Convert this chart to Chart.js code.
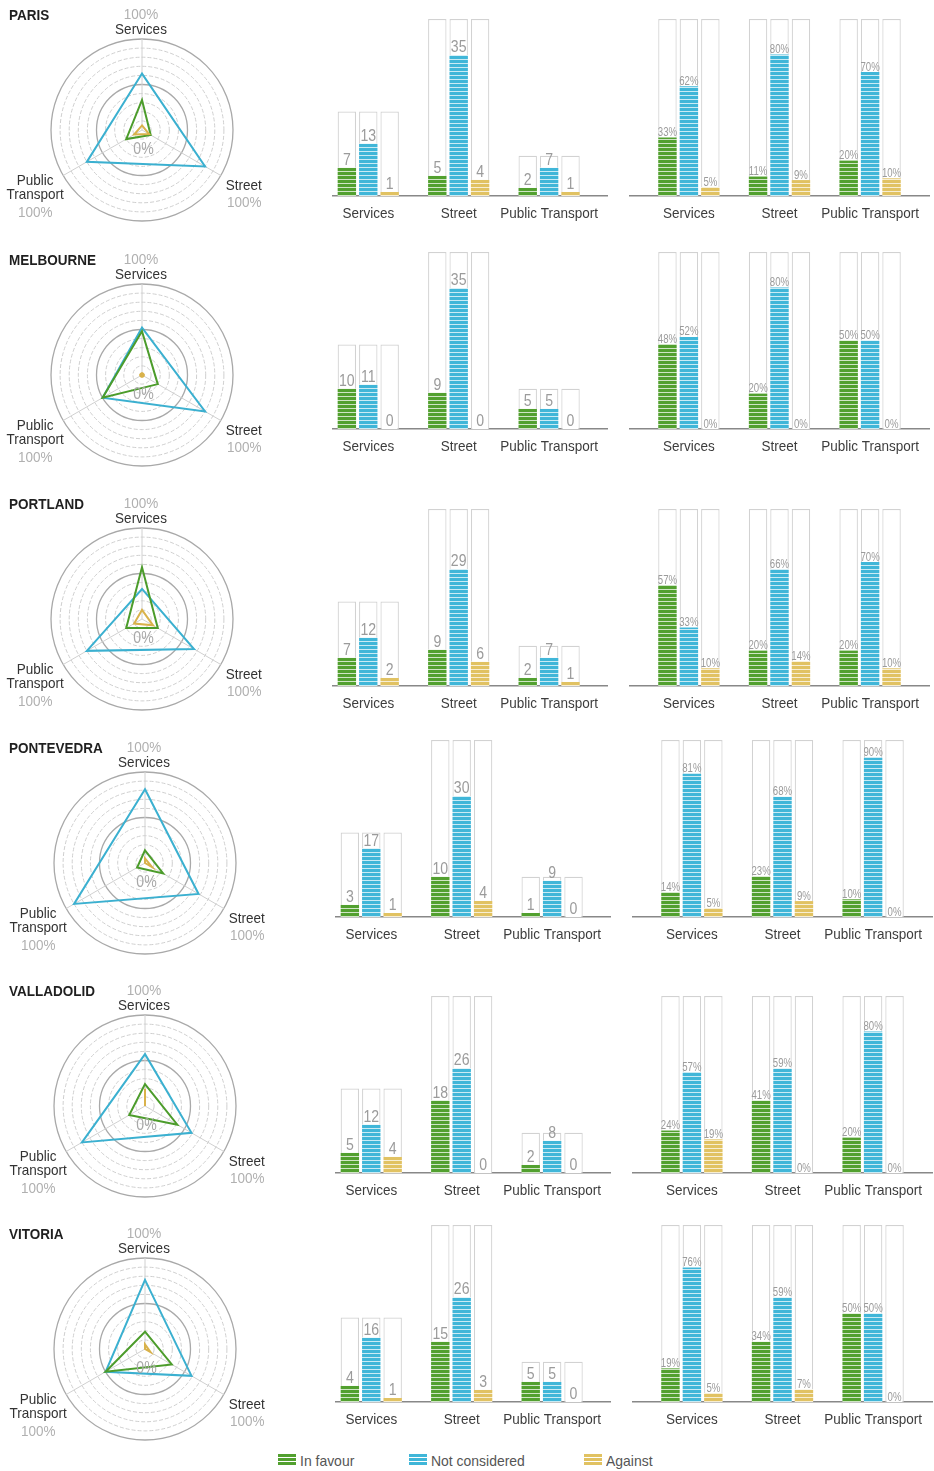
<!DOCTYPE html>
<html>
<head>
<meta charset="utf-8">
<title>Street, services and public transport – survey by city</title>
<script src="https://cdn.jsdelivr.net/npm/chart.js@4.4.1/dist/chart.umd.min.js"></script>
<style>
  html, body { margin: 0; padding: 0; background: #fff; }
  body { width: 934px; height: 1471px; position: relative; overflow: hidden;
         font-family: "Liberation Sans", Arial, sans-serif; }
  canvas { position: absolute; }
  .legend { position: absolute; left: 0; top: 1451px; width: 934px; height: 18px; font-size: 15px; color: #555; }
  .legend .item { position: absolute; top: 0; display: flex; align-items: center; height: 18px; }
  .legend .sw { display: inline-block; width: 18px; height: 12px; margin-right: 4px; }
  .legend .txt { display: inline-block; transform: scaleX(0.93); transform-origin: left center; white-space: nowrap; }
</style>
</head>
<body>
<div class="legend">
  <span class="item" style="left:278px"><i class="sw" id="sw0"></i><span class="txt" id="lg0"></span></span>
  <span class="item" style="left:409px"><i class="sw" id="sw1"></i><span class="txt" id="lg1"></span></span>
  <span class="item" style="left:584px"><i class="sw" id="sw2"></i><span class="txt" id="lg2"></span></span>
</div>
<script>
// ---- data -------------------------------------------------------------
const cities = ['PARIS', 'MELBOURNE', 'PORTLAND', 'PONTEVEDRA', 'VALLADOLID', 'VITORIA'];
const categories = ['Services', 'Street', 'Public Transport'];
const radarAxisNames = [['Services'], ['Street'], ['Public', 'Transport']];
const seriesNames = ['In favour', 'Not considered', 'Against'];

// number of answers per city, [Services, Street, Public Transport]
const favourCount        = [[7, 5, 2], [10, 9, 5], [7, 9, 2], [3, 10, 1], [5, 18, 2], [4, 15, 5]];
const notConsideredCount = [[13, 35, 7], [11, 35, 5], [12, 29, 7], [17, 30, 9], [12, 26, 8], [16, 26, 5]];
const againstCount       = [[1, 4, 1], [0, 0, 0], [2, 6, 1], [1, 4, 0], [4, 0, 0], [1, 3, 0]];

// share of answers per city (%), [Services, Street, Public Transport]
const favourPct        = [[33, 11, 20], [48, 20, 50], [57, 20, 20], [14, 23, 10], [24, 41, 20], [19, 34, 50]];
const notConsideredPct = [[62, 80, 70], [52, 80, 50], [33, 66, 70], [81, 68, 90], [57, 59, 80], [76, 59, 50]];
const againstPct       = [[5, 9, 10], [0, 0, 0], [10, 14, 10], [5, 9, 0], [19, 0, 0], [5, 7, 0]];

// ---- page layout ------------------------------------------------------
const rowTop   = [0, 245, 489, 733, 976, 1219];
const barBase  = [196, 429, 686, 917, 1173, 1402];
const rowShift = [0, 0, 0, 3, 3, 3];

const FONT = '"Liberation Sans", Arial, sans-serif';
const FILL = ['#52a02f', '#40b6d8', '#e1c262'];
const LINE = ['#4c9c2b', '#3bb0d0', '#d9b24b'];
const BOX_LINE = '#d2d2d2';

Chart.defaults.font.family = FONT;

// condensed lettering: Liberation Sans squeezed horizontally
function narrowText(ctx, txt, x, y, font, color, align, sx) {
  ctx.save();
  ctx.font = font;
  ctx.fillStyle = color;
  ctx.textAlign = align;
  ctx.textBaseline = 'alphabetic';
  ctx.translate(x, y);
  ctx.scale(sx, 1);
  ctx.fillText(txt, 0, 0);
  ctx.restore();
}

function stripes(color) {
  const c = document.createElement('canvas');
  c.width = 4; c.height = 4;
  const g = c.getContext('2d');
  g.fillStyle = color; g.fillRect(0, 0, 4, 4);
  g.fillStyle = 'rgba(255,255,255,0.72)'; g.fillRect(0, 3, 4, 1);
  return g.createPattern(c, 'repeat');
}
const PATTERN = FILL.map(stripes);

// legend
FILL.forEach((col, i) => {
  document.getElementById('sw' + i).style.background =
    'repeating-linear-gradient(to bottom, ' + col + ' 0px, ' + col + ' 3px, rgba(255,255,255,0.75) 3px, rgba(255,255,255,0.75) 4px)';
  document.getElementById('lg' + i).textContent = seriesNames[i];
});

function addCanvas(left, top, w, h) {
  const c = document.createElement('canvas');
  c.width = w; c.height = h;
  c.style.left = left + 'px'; c.style.top = top + 'px';
  c.style.width = w + 'px'; c.style.height = h + 'px';
  document.body.appendChild(c);
  return c;
}

// ---- radar: city name, axis names, 0% / 100% marks ---------------------
const radarText = {
  id: 'radarText',
  afterDraw(chart, args, opts) {
    const ctx = chart.ctx;
    const s = chart.scales.r;
    const nameFont = '15px ' + FONT, pctFont = '15px ' + FONT;
    const nameCol = '#333', pctCol = '#b0b0b0';

    narrowText(ctx, opts.title, 9, 20, 'bold 15px ' + FONT, '#1f1f1f', 'left', 0.9);

    // Services (top)
    const p0 = s.getPointPositionForValue(0, 100);
    narrowText(ctx, '100%', p0.x - 1, p0.y - 20, pctFont, pctCol, 'center', 0.9);
    narrowText(ctx, radarAxisNames[0][0], p0.x - 1, p0.y - 5, nameFont, nameCol, 'center', 0.9);

    // Street (lower right)
    const p1 = s.getPointPositionForValue(1, 100);
    narrowText(ctx, radarAxisNames[1][0], p1.x + 23, p1.y + 14, nameFont, nameCol, 'center', 0.9);
    narrowText(ctx, '100%', p1.x + 23.5, p1.y + 31, pctFont, pctCol, 'center', 0.9);

    // Public Transport (lower left)
    const p2 = s.getPointPositionForValue(2, 100);
    narrowText(ctx, radarAxisNames[2][0], p2.x - 28, p2.y + 9.5, nameFont, nameCol, 'center', 0.9);
    narrowText(ctx, radarAxisNames[2][1], p2.x - 28, p2.y + 23.5, nameFont, nameCol, 'center', 0.9);
    narrowText(ctx, '100%', p2.x - 28, p2.y + 41, pctFont, pctCol, 'center', 0.9);

    // centre
    narrowText(ctx, '0%', s.xCenter + 1.5, s.yCenter + 24, '16px ' + FONT, '#a8a8a8', 'center', 0.88);
  }
};

function radarChart(r) {
  const sh = rowShift[r];
  const cv = addCanvas(0, rowTop[r], 300, 240);
  // a series that is zero on every axis collapses to a dot at the centre
  const dot = c => c.dataset.data.every(v => v === 0) ? 2.5 : 0;
  return new Chart(cv, {
    type: 'radar',
    data: {
      labels: categories,
      datasets: [
        { label: seriesNames[2], data: againstPct[r], borderColor: LINE[2], backgroundColor: LINE[2], fill: false },
        { label: seriesNames[0], data: favourPct[r], borderColor: LINE[0], backgroundColor: LINE[0], fill: false },
        { label: seriesNames[1], data: notConsideredPct[r], borderColor: LINE[1], backgroundColor: LINE[1], fill: false }
      ]
    },
    options: {
      responsive: false, animation: false, devicePixelRatio: 1, events: [],
      layout: { padding: { left: 51 + sh, right: 67 - sh, top: 39, bottom: 19 } },
      elements: {
        line: { borderWidth: 2, tension: 0, borderCapStyle: 'round', borderJoinStyle: 'miter' },
        point: { radius: dot, borderWidth: 0, hoverRadius: 0 }
      },
      plugins: { legend: { display: false }, tooltip: { enabled: false }, radarText: { title: cities[r] } },
      scales: {
        r: {
          min: 0, max: 100,
          ticks: { display: false, stepSize: 10 },
          pointLabels: { display: false },
          angleLines: { color: '#d0d0d0', lineWidth: 1 },
          grid: {
            circular: true,
            color: c => (c.tick && c.tick.value % 50 === 0) ? '#a9a9a9' : '#cfcfcf',
            lineWidth: c => (c.tick && c.tick.value % 50 === 0) ? 1.3 : 1
          },
          border: { dash: c => (c.tick && c.tick.value % 50 === 0) ? [] : [4, 2] }
        }
      }
    },
    plugins: [radarText]
  });
}

// ---- bars: values above each coloured bar, group names under the axis ---
const barText = {
  id: 'barText',
  afterDatasetsDraw(chart, args, opts) {
    const ctx = chart.ctx;
    chart.data.datasets.forEach((ds, di) => {
      if (!ds.showValue) return;
      chart.getDatasetMeta(di).data.forEach((bar, i) => {
        narrowText(ctx, ds.data[i].y + opts.suffix, bar.x, bar.y - opts.gap,
                   opts.font, '#9b9b9b', 'center', opts.sx);
      });
    });
    const xs = chart.scales.x;
    categories.forEach((c, i) => {
      narrowText(ctx, c, xs.getPixelForValue(i), chart.chartArea.bottom + 22,
                 '15px ' + FONT, '#3d3d3d', 'center', 0.9);
    });
  }
};

function barChart(r, kind) {
  const sh = rowShift[r];
  const isCount = kind === 'count';
  const series = isCount
    ? [favourCount[r], notConsideredCount[r], againstCount[r]]
    : [favourPct[r], notConsideredPct[r], againstPct[r]];
  const totals = categories.map((_, i) => isCount ? series[0][i] + series[1][i] + series[2][i] : 100);
  const yMax = Math.max(...totals);

  const datasets = [];
  series.forEach((vals, k) => {
    datasets.push({
      label: seriesNames[k], stack: 's' + k, showValue: true,
      data: vals.map((v, i) => ({ x: i, y: v })),
      backgroundColor: PATTERN[k], borderWidth: 0
    });
    datasets.push({
      label: seriesNames[k] + ' (total)', stack: 's' + k,
      data: vals.map((v, i) => ({ x: i, y: totals[i] - v })),
      backgroundColor: '#ffffff', borderColor: BOX_LINE, borderWidth: 1.2
    });
  });

  const left = (isCount ? 300 : 620) + sh;
  const width = isCount ? 320 : 312;
  const cv = addCanvas(left, barBase[r] - 200, width, 240);
  const pad = isCount ? { left: 33, right: 13 } : { left: 10, right: 3 };

  return new Chart(cv, {
    type: 'bar',
    data: { datasets },
    options: {
      responsive: false, animation: false, devicePixelRatio: 1, events: [],
      layout: { padding: { left: pad.left, right: pad.right, top: 23, bottom: 0 } },
      datasets: { bar: { categoryPercentage: 0.71, barPercentage: 0.86, inflateAmount: 0 } },
      plugins: {
        legend: { display: false }, tooltip: { enabled: false },
        barText: isCount
          ? { font: '16px ' + FONT, suffix: '', gap: 3, sx: 0.88 }
          : { font: '13px ' + FONT, suffix: '%', gap: 1.5, sx: 0.74 }
      },
      scales: {
        x: {
          type: 'linear', stacked: true, offset: false,
          min: isCount ? -0.39 : -0.65, max: isCount ? 2.64 : 2.65,
          afterBuildTicks: s => { s.ticks = categories.map((c, i) => ({ value: i })); },
          afterFit: s => { s.height = 40; },
          grid: { display: false, drawTicks: false },
          border: { display: true, color: '#888', width: 1.5 },
          ticks: { display: false }
        },
        y: { display: false, stacked: true, min: 0, max: yMax }
      }
    },
    plugins: [barText]
  });
}

cities.forEach((c, r) => {
  radarChart(r);
  barChart(r, 'count');
  barChart(r, 'pct');
});
</script>
</body>
</html>
